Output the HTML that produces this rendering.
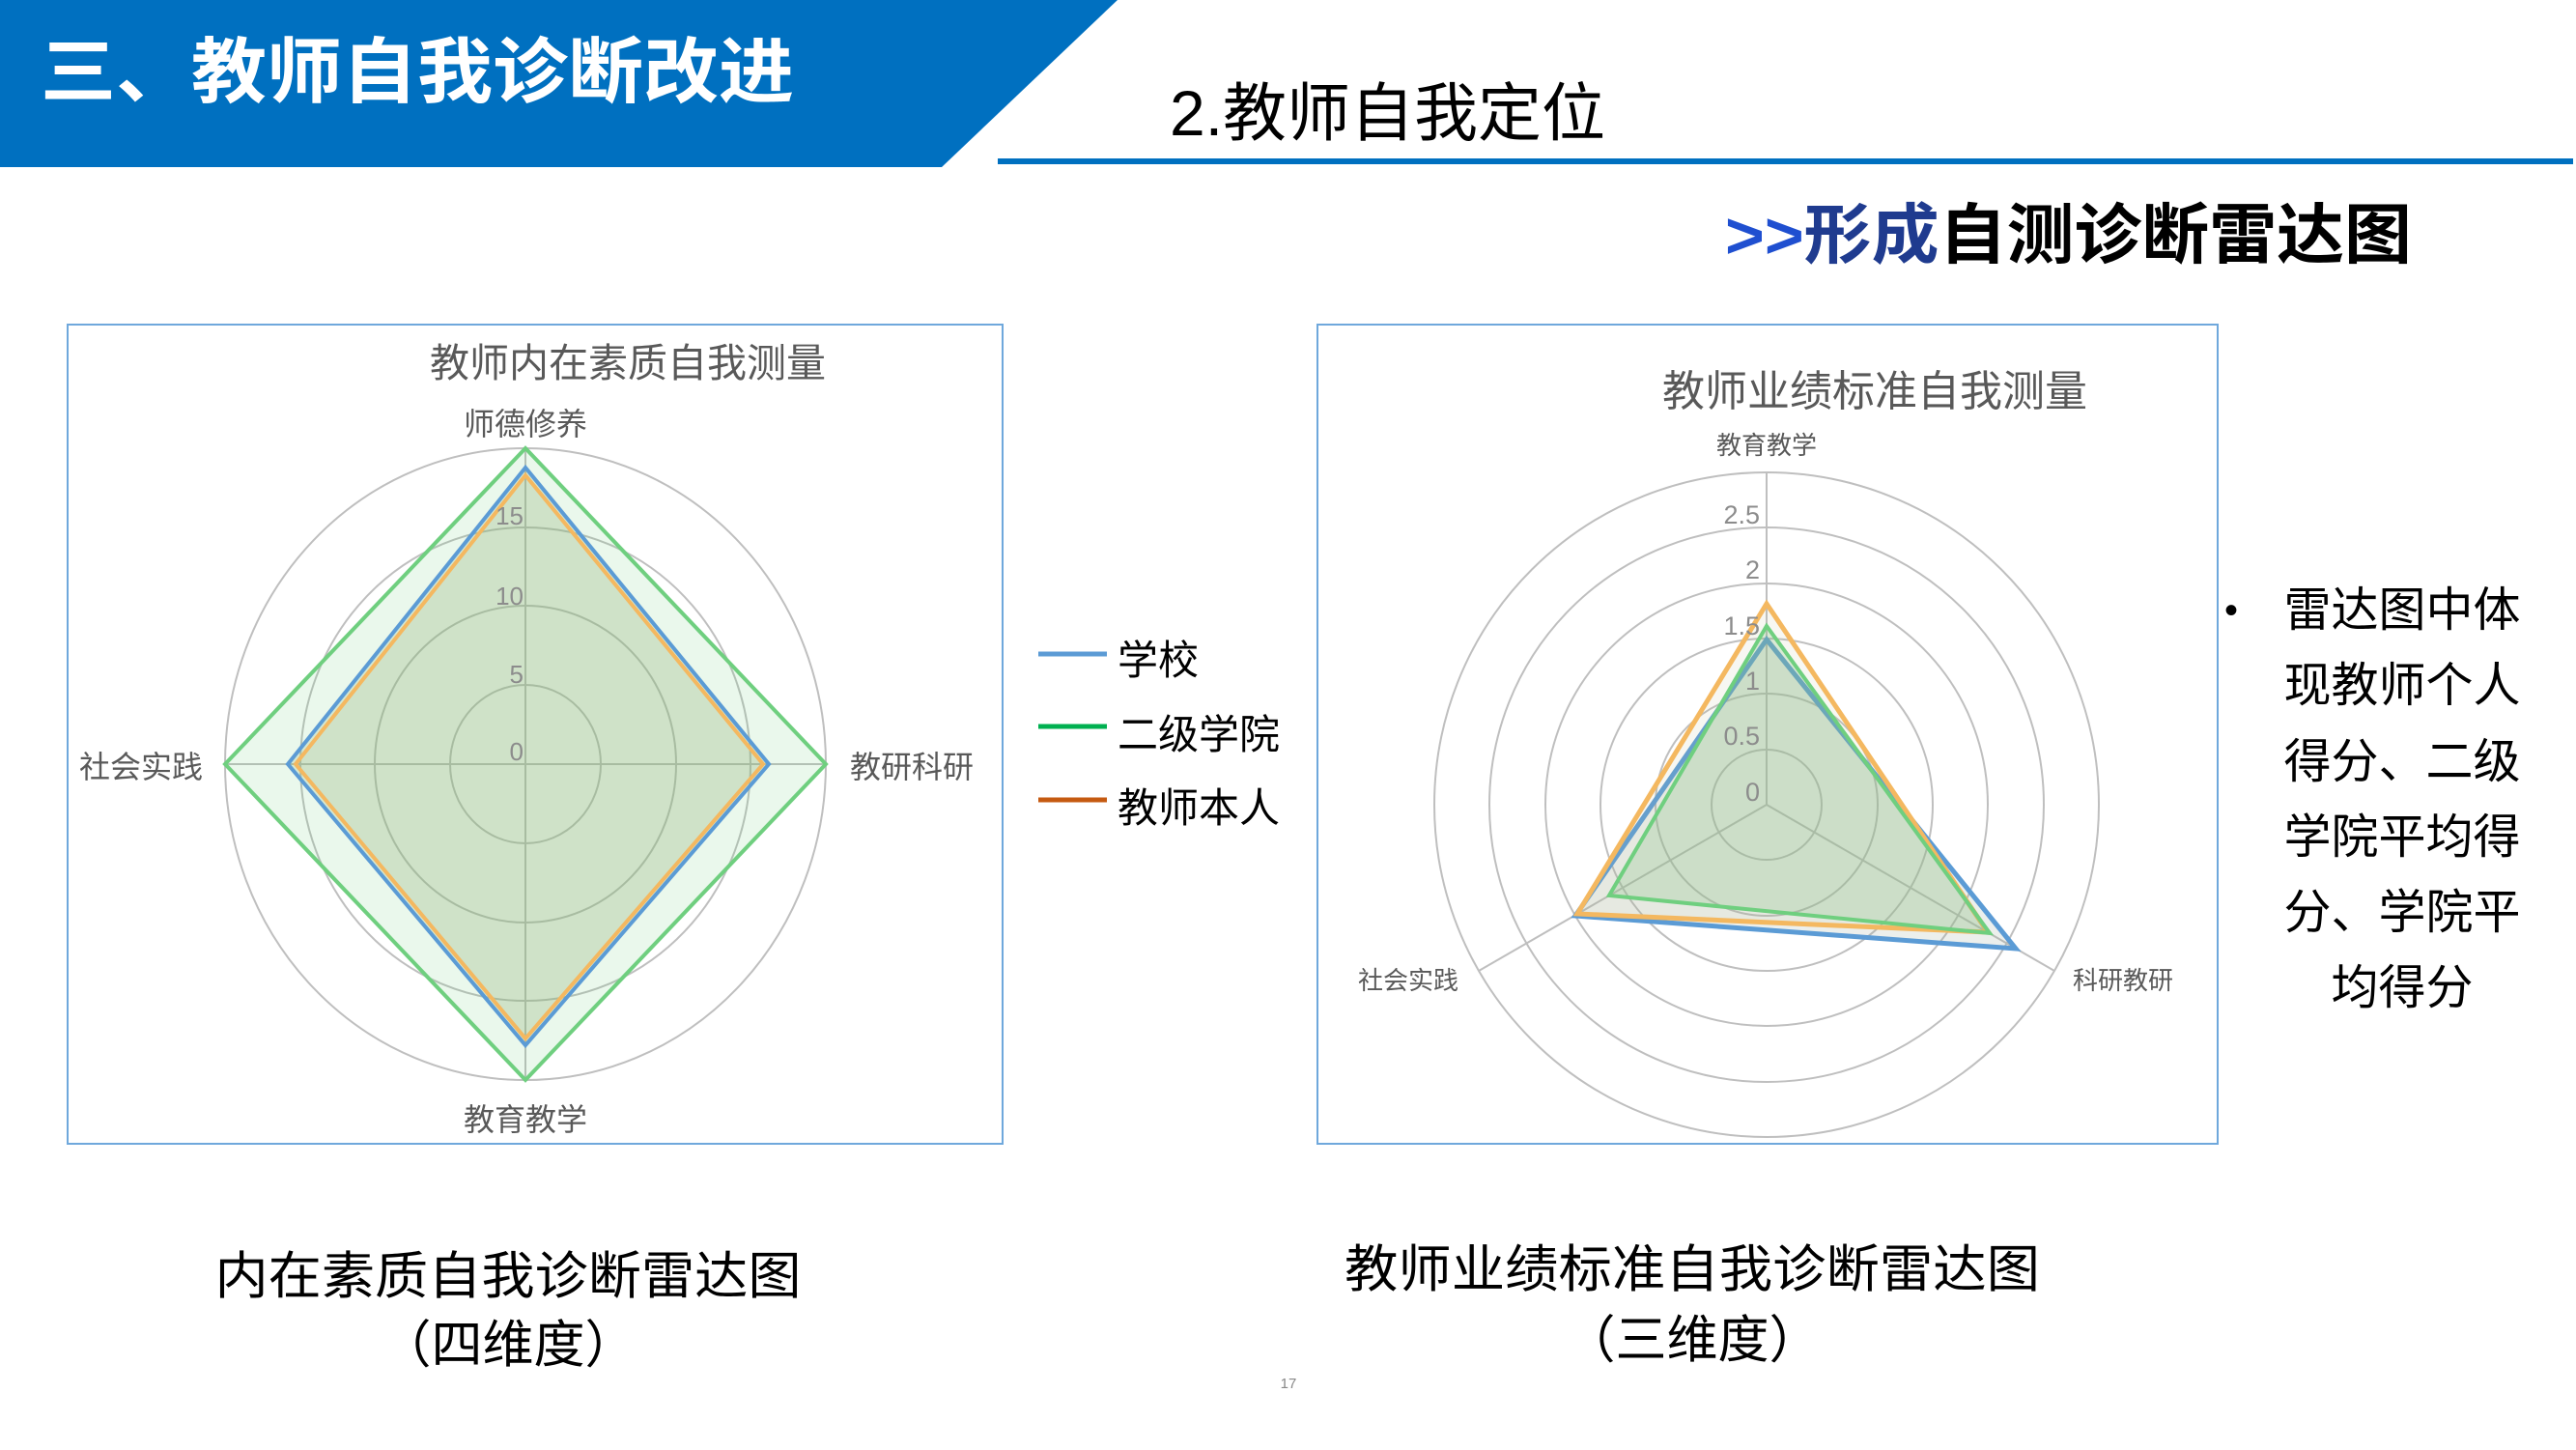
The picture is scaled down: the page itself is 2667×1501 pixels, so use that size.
<!DOCTYPE html>
<html><head><meta charset="utf-8"><style>
html,body{margin:0;padding:0;background:#fff}
svg{display:block}
text{font-family:"Liberation Sans","Noto Sans CJK SC",sans-serif}
</style></head><body>
<svg width="2667" height="1501" viewBox="0 0 2667 1501" xmlns="http://www.w3.org/2000/svg">
<polygon points="0,0 1157,0 975,173 0,173" fill="#0070c0"/>
<text x="42" y="100" font-size="74" font-weight="bold" fill="#fff" textLength="780" lengthAdjust="spacingAndGlyphs">三、教师自我诊断改进</text>
<text x="1211" y="140" font-size="66" fill="#000">2.教师自我定位</text>
<rect x="1033" y="164" width="1631" height="6" fill="#0070c0"/>
<text x="1786" y="267" font-size="68" font-weight="bold" textLength="711" lengthAdjust="spacingAndGlyphs"><tspan fill="#1f4fd0">&gt;&gt;</tspan><tspan fill="#1f3b8f">形成</tspan><tspan fill="#000">自测诊断雷达图</tspan></text>

<!-- Left chart -->
<rect x="70" y="336" width="968" height="848" fill="#fff" stroke="#6fa8dc" stroke-width="2"/>
<text x="650" y="390" font-size="41" fill="#595959" text-anchor="middle">教师内在素质自我测量</text>
<g fill="none" stroke="#bfbfbf" stroke-width="2">
<ellipse cx="544" cy="791" rx="78" ry="82"/>
<ellipse cx="544" cy="791" rx="156" ry="164"/>
<ellipse cx="544" cy="791" rx="233" ry="245"/>
<ellipse cx="544" cy="791" rx="311" ry="327"/>
<line x1="544" y1="464" x2="544" y2="1118"/>
<line x1="233" y1="791" x2="855" y2="791"/>
</g>
<polygon points="544,464 855,791 544,1118 233,791" fill="#6fcf7f" fill-opacity="0.15" stroke="#6fcf7f" stroke-width="4"/>
<polygon points="544,484 796,791 544,1082 298,791" fill="#7fa86f" fill-opacity="0.2" stroke="#5b9bd5" stroke-width="4"/>
<polygon points="544,492 790,791 544,1075 306,791" fill="#b0c080" fill-opacity="0.12" stroke="#f4b860" stroke-width="4"/>
<g font-size="26" fill="#8c8c8c" text-anchor="end">
<text x="542" y="787">0</text><text x="542" y="707">5</text><text x="542" y="626">10</text><text x="542" y="543">15</text>
</g>
<g font-size="32" fill="#595959" text-anchor="middle">
<text x="544" y="450">师德修养</text>
<text x="944" y="805">教研科研</text>
<text x="146" y="805">社会实践</text>
<text x="544" y="1170">教育教学</text>
</g>
<g stroke-width="5">
<line x1="1075" y1="677" x2="1146" y2="677" stroke="#5b9bd5"/>
<line x1="1075" y1="752" x2="1146" y2="752" stroke="#00b050"/>
<line x1="1075" y1="828" x2="1146" y2="828" stroke="#c55a11"/>
</g>
<g font-size="42" fill="#000">
<text x="1157" y="698">学校</text>
<text x="1157" y="775">二级学院</text>
<text x="1157" y="851">教师本人</text>
</g>

<!-- Right chart -->
<rect x="1364" y="336" width="932" height="848" fill="#fff" stroke="#6fa8dc" stroke-width="2"/>
<text x="1941" y="420" font-size="44" fill="#595959" text-anchor="middle">教师业绩标准自我测量</text>
<g fill="none" stroke="#bfbfbf" stroke-width="2">
<circle cx="1829" cy="833" r="57"/><circle cx="1829" cy="833" r="115"/><circle cx="1829" cy="833" r="172"/>
<circle cx="1829" cy="833" r="229"/><circle cx="1829" cy="833" r="287"/><circle cx="1829" cy="833" r="344"/>
<line x1="1829" y1="833" x2="1829" y2="489"/>
<line x1="1829" y1="833" x2="2127" y2="1005"/>
<line x1="1829" y1="833" x2="1531" y2="1005"/>
</g>
<polygon points="1829,662 2087,982 1631,948" fill="#a0b0a0" fill-opacity="0.2" stroke="#5b9bd5" stroke-width="5"/>
<polygon points="1829,625 2058,965 1633,946" fill="#c0c090" fill-opacity="0.12" stroke="#f4b860" stroke-width="5"/>
<polygon points="1829,648 2060,966 1666,927" fill="#7fbf7f" fill-opacity="0.25" stroke="#6fcf7f" stroke-width="4"/>
<g font-size="27" fill="#8c8c8c" text-anchor="end">
<text x="1822" y="829">0</text><text x="1822" y="771">0.5</text><text x="1822" y="714">1</text>
<text x="1822" y="657">1.5</text><text x="1822" y="599">2</text><text x="1822" y="542">2.5</text>
</g>
<g font-size="26" fill="#595959" text-anchor="middle">
<text x="1829" y="470">教育教学</text>
<text x="1458" y="1024">社会实践</text>
<text x="2198" y="1024">科研教研</text>
</g>

<!-- Bullet text -->
<text x="2303" y="645" font-size="40" fill="#000">•</text>
<g font-size="49" fill="#000" text-anchor="middle">
<text x="2487" y="648">雷达图中体</text>
<text x="2487" y="726">现教师个人</text>
<text x="2487" y="805">得分、二级</text>
<text x="2487" y="883">学院平均得</text>
<text x="2487" y="961">分、学院平</text>
<text x="2487" y="1039">均得分</text>
</g>

<g font-size="53" fill="#000" text-anchor="middle">
<text x="526" y="1339" textLength="607" lengthAdjust="spacingAndGlyphs">内在素质自我诊断雷达图</text>
<text x="526" y="1410">（四维度）</text>
<text x="1752" y="1332" textLength="720" lengthAdjust="spacingAndGlyphs">教师业绩标准自我诊断雷达图</text>
<text x="1752" y="1405">（三维度）</text>
</g>
<text x="1334" y="1437" font-size="15" fill="#888" text-anchor="middle">17</text>
</svg>
</body></html>
